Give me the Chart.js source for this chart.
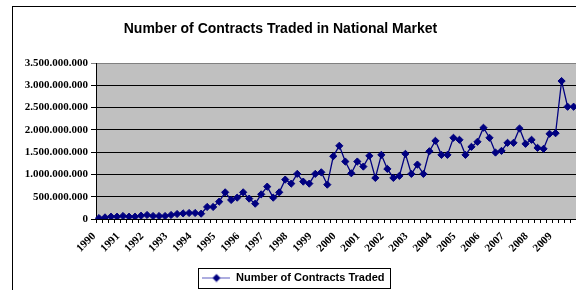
<!DOCTYPE html>
<html><head><meta charset="utf-8">
<script src="https://cdn.jsdelivr.net/npm/chart.js@4.4.1/dist/chart.umd.min.js"></script>
<style>
html,body{margin:0;padding:0;background:#fff;overflow:hidden;width:576px;height:290px}
#wrap{width:590px;height:290px;position:relative}
</style></head>
<body><div id="wrap"><canvas id="c" width="590" height="290"></canvas></div>
<script>
// ---- data ----
const titleText = 'Number of Contracts Traded in National Market';
const seriesName = 'Number of Contracts Traded';
const years = ['1990','1991','1992','1993','1994','1995','1996','1997','1998','1999',
               '2000','2001','2002','2003','2004','2005','2006','2007','2008','2009'];
const quarters = ['Q1','Q2','Q3','Q4'];
// quarterly number of contracts traded
const contracts = [
  20e6, 36e6, 52e6, 52e6,       // 1990
  67e6, 52e6, 52e6, 74e6,       // 1991
  90e6, 67e6, 67e6, 67e6,       // 1992
  90e6, 112e6, 126e6, 135e6,    // 1993
  135e6, 120e6, 270e6, 270e6,   // 1994
  389e6, 598e6, 427e6, 479e6,   // 1995
  598e6, 457e6, 344e6, 553e6,   // 1996
  726e6, 479e6, 598e6, 884e6,   // 1997
  794e6, 1012e6, 839e6, 794e6,  // 1998
  1012e6, 1048e6, 771e6, 1408e6,// 1999
  1642e6, 1289e6, 1026e6, 1289e6,// 2000
  1176e6, 1417e6, 922e6, 1439e6,// 2001
  1124e6, 922e6, 967e6, 1462e6, // 2002
  1012e6, 1221e6, 1012e6, 1520e6,// 2003
  1754e6, 1439e6, 1439e6, 1822e6,// 2004
  1777e6, 1439e6, 1619e6, 1732e6,// 2005
  2047e6, 1822e6, 1491e6, 1529e6,// 2006
  1709e6, 1709e6, 2031e6, 1687e6,// 2007
  1777e6, 1597e6, 1574e6, 1912e6,// 2008
  1925e6, 3095e6, 2519e6, 2519e6 // 2009
];
const yMin = 0, yMax = 3500000000, yStep = 500000000;

// categories built from years x quarters
const categories = [];
years.forEach(y => quarters.forEach(q => categories.push(y + ' ' + q)));

function fmtDots(v){ return String(Math.round(v)).replace(/\B(?=(\d{3})+(?!\d))/g, '.'); }

// legend icon: line with diamond
const icon = document.createElement('canvas');
icon.width = 28; icon.height = 10;
(function(){
  const g = icon.getContext('2d');
  g.strokeStyle = '#5a5ac0'; g.lineWidth = 1;
  g.beginPath(); g.moveTo(0, 5.5); g.lineTo(28, 5.5); g.stroke();
  g.fillStyle = '#000080';
  g.beginPath(); g.moveTo(14, 1.5); g.lineTo(18, 5.5); g.lineTo(14, 9.5); g.lineTo(10, 5.5); g.closePath(); g.fill();
})();

const deco = {
  id: 'deco',
  beforeDraw(chart){
    const {ctx, chartArea: a} = chart;
    ctx.save();
    ctx.fillStyle = '#ffffff';
    ctx.fillRect(0, 0, chart.width, chart.height);
    ctx.fillStyle = '#C0C0C0';
    ctx.fillRect(a.left, a.top, a.right - a.left, a.bottom - a.top);
    ctx.restore();
  },
  afterDraw(chart){
    const {ctx} = chart;
    ctx.save();
    // outer chart border
    ctx.strokeStyle = '#000'; ctx.lineWidth = 1;
    ctx.strokeRect(12.5, 6.5, chart.width, chart.height);
    // title
    ctx.fillStyle = '#000';
    ctx.font = 'bold 14px "Liberation Sans", Arial, sans-serif';
    ctx.textAlign = 'center'; ctx.textBaseline = 'alphabetic';
    ctx.fillText(titleText, 280.5, 33);
    // legend frame
    const hb = chart.legend.legendHitBoxes[0];
    if (hb) {
      const cy = hb.top + hb.height / 2;
      ctx.strokeStyle = '#000';
      ctx.strokeRect(Math.round(hb.left - 4) + 0.5, Math.round(cy - 10) + 0.5, Math.round(hb.width + 10), 20);
    }
    ctx.restore();
  }
};

new Chart(document.getElementById('c'), {
  type: 'line',
  data: {
    labels: categories,
    datasets: [{
      label: seriesName,
      data: contracts,
      borderColor: '#000080',
      backgroundColor: '#000080',
      borderWidth: 1.3,
      pointStyle: 'rectRot',
      pointRadius: 3.6,
      pointBorderWidth: 1,
      pointBackgroundColor: '#000080',
      pointBorderColor: '#000080',
      tension: 0,
      fill: false
    }]
  },
  options: {
    responsive: false,
    devicePixelRatio: 1,
    animation: false,
    layout: { padding: { top: 63, left: 8, right: 11, bottom: -3 } },
    plugins: {
      title: { display: false },
      tooltip: { enabled: false },
      legend: {
        display: true,
        position: 'bottom',
        labels: {
          color: '#000',
          font: { family: '"Liberation Sans", Arial, sans-serif', size: 11, weight: 'bold' },
          padding: 3,
          usePointStyle: true,
          pointStyleWidth: 28,
          generateLabels: (chart) => [{
            text: seriesName, pointStyle: icon, fillStyle: '#000080',
            strokeStyle: '#000080', lineWidth: 0, hidden: false, datasetIndex: 0
          }]
        }
      }
    },
    scales: {
      x: {
        offset: true,
        afterFit(scale){ scale.height = 50; },
        grid: { display: true, drawOnChartArea: false, offset: true, color: '#000', tickLength: 4, lineWidth: 1 },
        border: { display: true, color: '#000', width: 1 },
        ticks: {
          autoSkip: false, maxRotation: 45, minRotation: 45, color: '#000',
          padding: 7, labelOffset: -5,
          font: { family: '"Liberation Serif", "Times New Roman", serif', size: 11, weight: 'bold' },
          callback: (v, i) => (i % quarters.length === 0 ? years[i / quarters.length] : '')
        }
      },
      y: {
        min: yMin, max: yMax,
        afterFit(scale){ scale.width = 88; },
        grid: {
          color: (c) => (c.tick && c.tick.value === yMax ? '#808080' : '#000'),
          lineWidth: 1, tickLength: 5, drawTicks: true
        },
        border: { display: true, color: '#000', width: 1 },
        ticks: {
          stepSize: yStep, color: '#000', padding: 3,
          font: { family: '"Liberation Serif", "Times New Roman", serif', size: 11, weight: 'bold' },
          callback: (v) => fmtDots(v)
        }
      }
    }
  },
  plugins: [deco]
});
</script>
</body></html>
